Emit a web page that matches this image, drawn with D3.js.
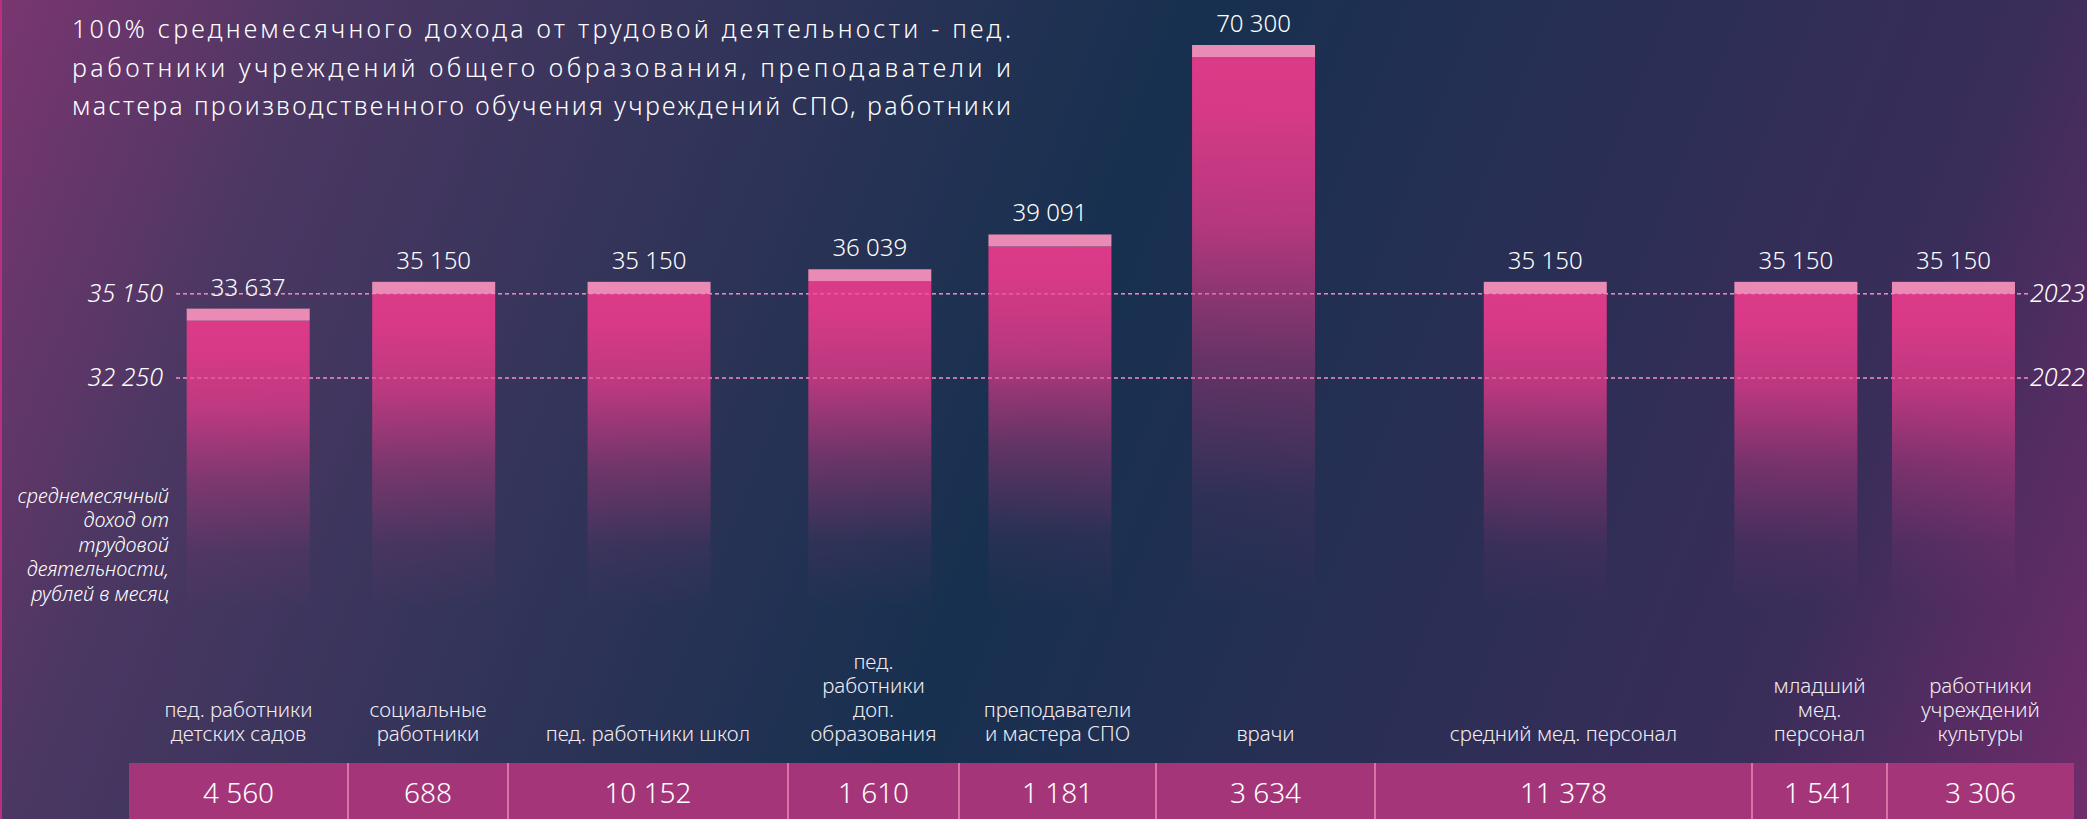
<!DOCTYPE html>
<html>
<head>
<meta charset="utf-8">
<script src="https://cdn.jsdelivr.net/npm/d3@7"></script>
<style>
  body { margin: 0; overflow: hidden; background: #1c2f50; }
  text { font-family: "Noto Sans", "Open Sans", sans-serif; fill: #fff; }
</style>
</head>
<body>
<div id="chart"></div>
<script>
document.addEventListener("DOMContentLoaded", function() {

  // data
  const categories = [
    "пед. работники\nдетских садов",
    "социальные\nработники",
    "пед. работники школ",
    "пед.\nработники\nдоп.\nобразования",
    "преподаватели\nи мастера СПО",
    "врачи",
    "средний мед. персонал",
    "младший\nмед.\nперсонал",
    "работники\nучреждений\nкультуры"
  ];
  const income = [33637, 35150, 35150, 36039, 39091, 70300, 35150, 35150, 35150];
  const workers = [4560, 688, 10152, 1610, 1181, 3634, 11378, 1541, 3306];
  const refValues = [35150, 32250];
  const refYears = ["2023", "2022"];
  const titleLines = [
    "100% среднемесячного дохода от трудовой деятельности - пед.",
    "работники учреждений общего образования, преподаватели и",
    "мастера производственного обучения учреждений СПО, работники"
  ];
  const axisTitle = ["среднемесячный", "доход от", "трудовой", "деятельности,", "рублей в месяц"];

  // layout
  const width = 2087, height = 819;
  const tableLeft = 129, tableTop = 763;
  const colWidths = [219, 160, 280, 171, 197, 219, 377, 135, 187];
  const barWidth = 123, capH = 12, barBottom = 608;

  const fmt = d3.formatLocale({ decimal: ",", thousands: " ", grouping: [3], currency: ["", ""] }).format(",d");

  const edges = [tableLeft];
  colWidths.forEach(w => edges.push(edges[edges.length - 1] + w));
  const tableRight = edges[edges.length - 1];
  const colCenter = categories.map((c, i) => (edges[i] + edges[i + 1]) / 2);

  // bars sit on a slightly narrower span than the table below
  const xBar = d3.scaleLinear().domain([tableLeft, tableRight]).range([141, 2045]);

  // infographic scale: power scale of the amount above the 2022 level
  const base = d3.min(refValues);
  const yPow = d3.scalePow().exponent(0.52)
    .domain([0, d3.max(income) - base])
    .range([378, 57]);
  const y = v => yPow(v - base);

  const svg = d3.select("#chart").append("svg")
    .attr("width", width)
    .attr("height", height);

  const defs = svg.append("defs");
  const bg = defs.append("linearGradient").attr("id", "bg")
    .attr("gradientUnits", "userSpaceOnUse")
    .attr("x1", 0).attr("y1", 0).attr("x2", width).attr("y2", height);
  [[0, "#7a3670"], [0.14, "#4a3762"], [0.5, "#17304f"], [0.85, "#3a2d5a"], [1, "#702c6b"]]
    .forEach(s => bg.append("stop").attr("offset", s[0]).attr("stop-color", s[1]));

  const barGrad = defs.append("linearGradient").attr("id", "barGrad")
    .attr("x1", 0).attr("y1", 0).attr("x2", 0).attr("y2", 1);
  [[0, 1], [0.1, 0.97], [0.3, 0.8], [0.55, 0.38], [0.8, 0.08], [1, 0]]
    .forEach(s => barGrad.append("stop").attr("offset", s[0])
      .attr("stop-color", "#dc3a88").attr("stop-opacity", s[1]));

  svg.append("rect").attr("width", width).attr("height", height).attr("fill", "url(#bg)");
  svg.append("rect").attr("width", 2).attr("height", height).attr("fill", "#b8307e");

  // title, justified
  svg.append("g").selectAll("text")
    .data(titleLines)
    .enter().append("text")
    .attr("x", 72)
    .attr("y", (d, i) => 38 + i * 38.5)
    .attr("textLength", 939)
    .attr("lengthAdjust", "spacing")
    .style("font-size", "25px")
    .style("font-weight", 300)
    .text(d => d);

  // reference lines (behind bars)
  const refs = svg.append("g");
  refs.selectAll("line")
    .data(refValues)
    .enter().append("line")
    .attr("x1", 176).attr("x2", 2030)
    .attr("y1", d => y(d)).attr("y2", d => y(d))
    .attr("stroke", "#e27bb0")
    .attr("stroke-width", 1.5)
    .attr("stroke-dasharray", "4 3");

  refs.selectAll(".tick")
    .data(refValues)
    .enter().append("text")
    .attr("class", "tick")
    .attr("x", 163)
    .attr("y", d => y(d) + 8)
    .attr("text-anchor", "end")
    .style("font-size", "25px")
    .style("font-style", "italic")
    .style("font-weight", 300)
    .text(d => fmt(d));

  refs.selectAll(".year")
    .data(refYears)
    .enter().append("text")
    .attr("class", "year")
    .attr("x", 2030)
    .attr("y", (d, i) => y(refValues[i]) + 8)
    .style("font-size", "25px")
    .style("font-style", "italic")
    .style("font-weight", 300)
    .text(d => d);

  // axis title
  svg.append("g").selectAll("text")
    .data(axisTitle)
    .enter().append("text")
    .attr("x", 169)
    .attr("y", (d, i) => 503 + i * 24.4)
    .attr("text-anchor", "end")
    .style("font-size", "20px")
    .style("font-style", "italic")
    .style("font-weight", 300)
    .text(d => d);

  // bars
  const bars = svg.append("g").selectAll("g")
    .data(income)
    .enter().append("g")
    .attr("transform", (d, i) => `translate(${xBar(colCenter[i]) - barWidth / 2},0)`);

  bars.append("rect")
    .attr("y", d => y(d))
    .attr("width", barWidth)
    .attr("height", d => barBottom - y(d))
    .attr("fill", "url(#barGrad)");

  bars.append("rect")
    .attr("y", d => y(d) - capH)
    .attr("width", barWidth)
    .attr("height", capH)
    .attr("fill", "#e98bb5");

  bars.append("text")
    .attr("x", barWidth / 2)
    .attr("y", d => y(d) - capH - 13)
    .attr("text-anchor", "middle")
    .style("font-size", "24px")
    .style("font-weight", 300)
    .text(d => fmt(d));

  // faint dashes over the bars
  svg.append("g").selectAll("line")
    .data(refValues)
    .enter().append("line")
    .attr("x1", 176).attr("x2", 2030)
    .attr("y1", d => y(d)).attr("y2", d => y(d))
    .attr("stroke", "#f0a0c8")
    .attr("stroke-opacity", 0.35)
    .attr("stroke-width", 1.5)
    .attr("stroke-dasharray", "4 3");

  // category labels
  const labels = svg.append("g").selectAll("text")
    .data(categories)
    .enter().append("text")
    .attr("text-anchor", "middle")
    .style("font-size", "20.5px")
    .style("font-weight", 300)
    .style("fill", "#f3ecf3");

  labels.each(function(d, i) {
    const lines = d.split("\n");
    d3.select(this).selectAll("tspan")
      .data(lines)
      .enter().append("tspan")
      .attr("x", colCenter[i])
      .attr("y", (l, j) => 741 - (lines.length - 1 - j) * 24)
      .text(l => l);
  });

  // table
  const table = svg.append("g");
  table.append("rect")
    .attr("x", tableLeft).attr("y", tableTop)
    .attr("width", tableRight - tableLeft)
    .attr("height", height - tableTop)
    .attr("fill", "#a53579");

  table.selectAll("line")
    .data(edges.slice(1, -1))
    .enter().append("line")
    .attr("x1", d => d).attr("x2", d => d)
    .attr("y1", tableTop).attr("y2", height)
    .attr("stroke", "#e88ab5")
    .attr("stroke-width", 1.5);

  table.selectAll("text")
    .data(workers)
    .enter().append("text")
    .attr("x", (d, i) => colCenter[i])
    .attr("y", 803)
    .attr("text-anchor", "middle")
    .style("font-size", "28px")
    .style("font-weight", 300)
    .text(d => fmt(d));
});
</script>
</body>
</html>
